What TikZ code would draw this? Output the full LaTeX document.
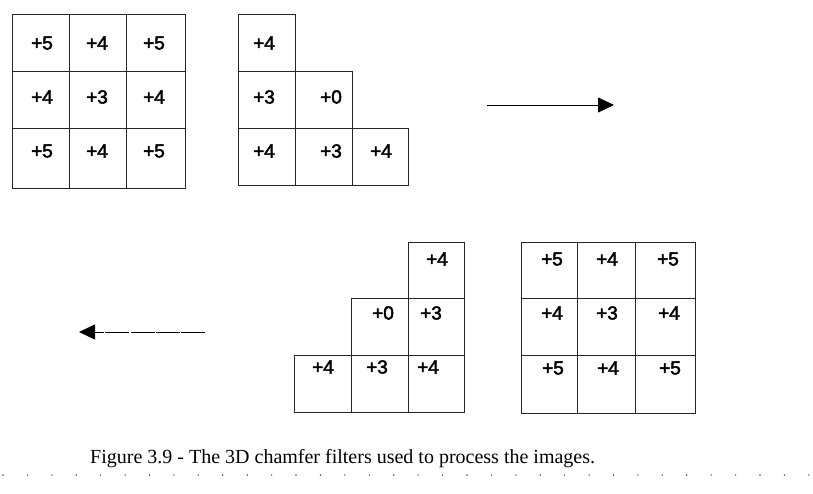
\documentclass[tikz,border=0pt]{standalone}
\usepackage{fontspec}
\setmainfont{Liberation Serif}
\newfontfamily\cellfont[FakeBold=2.5]{Liberation Sans}
\usetikzlibrary{arrows.meta}
\tikzset{
  cellbox/.style={draw=black!85, line width=0.8pt},
  val/.style={font=\cellfont\fontsize{19}{21}\selectfont, inner sep=0pt, anchor=center},
  flow/.style={line width=0.8pt, -{Triangle[length=16pt,width=15pt]}},
}
\begin{document}
\begin{tikzpicture}[x=1pt,y=-1pt]
\useasboundingbox (0,0) rectangle (813,494);
% top-left full grid
\draw[cellbox] (12,14) rectangle (185,188);
\draw[cellbox] (69,14) -- (69,188) (126,14) -- (126,188) (12,71) -- (185,71) (12,128) -- (185,128);
\node[val] (a11) at (42,43) {+5};
\node[val] (a12) at (97,43) {+4};
\node[val] (a13) at (154,43) {+5};
\node[val] (a21) at (42,97) {+4};
\node[val] (a22) at (97,97) {+3};
\node[val] (a23) at (154,97) {+4};
\node[val] (a31) at (42,151) {+5};
\node[val] (a32) at (97,151) {+4};
\node[val] (a33) at (154,151) {+5};
% top-middle staircase
\draw[cellbox] (238,14) -- (295,14) -- (295,71) -- (352,71) -- (352,128) -- (408,128) -- (408,185) -- (238,185) -- cycle;
\draw[cellbox] (238,71) -- (295,71) (238,128) -- (352,128) (295,71) -- (295,185) (352,128) -- (352,185);
\node[val] (b11) at (264,43) {+4};
\node[val] (b21) at (264,97) {+3};
\node[val] (b22) at (331,97) {+0};
\node[val] (b31) at (264,151) {+4};
\node[val] (b32) at (331,151) {+3};
\node[val] (b33) at (381,151) {+4};
% right arrow
\coordinate (r0) at (487,105);
\coordinate (r1) at (614,105);
\draw[flow] (r0) -- (r1);
% bottom-middle staircase
\draw[cellbox] (408,242) -- (464,242) -- (464,412) -- (294,412) -- (294,355) -- (351,355) -- (351,298) -- (408,298) -- cycle;
\draw[cellbox] (408,298) -- (464,298) (351,355) -- (464,355) (408,298) -- (408,412) (351,355) -- (351,412);
\node[val] (c11) at (437,259) {+4};
\node[val] (c21) at (383,313) {+0};
\node[val] (c22) at (431,313) {+3};
\node[val] (c31) at (323,367) {+4};
\node[val] (c32) at (377,367) {+3};
\node[val] (c33) at (428,367) {+4};
% bottom-right full grid
\draw[cellbox] (521,242) rectangle (695,413);
\draw[cellbox] (577,242) -- (577,413) (635,242) -- (635,413) (521,298) -- (695,298) (521,355) -- (695,355);
\node[val] (d11) at (552,259) {+5};
\node[val] (d12) at (607,259) {+4};
\node[val] (d13) at (668,259) {+5};
\node[val] (d21) at (552,313) {+4};
\node[val] (d22) at (607,313) {+3};
\node[val] (d23) at (669,313) {+4};
\node[val] (d31) at (553,368) {+5};
\node[val] (d32) at (608,368) {+4};
\node[val] (d33) at (670,368) {+5};
% left arrow
\coordinate (l0) at (205,332);
\coordinate (l1) at (79,332);
\draw[flow, dash pattern=on 24pt off 1.2pt] (l0) -- (l1);
% caption
\node[anchor=base west, inner sep=0pt, font=\fontsize{20}{22}\selectfont] (cap) at (90,463) {Figure 3.9 - The 3D chamfer filters used to process the images.};
% dotted rule
\foreach \i in {0,...,33} {
  \fill[black!70] ({3+\i*24.42},475) circle (0.8pt);
}
\end{tikzpicture}
\end{document}
